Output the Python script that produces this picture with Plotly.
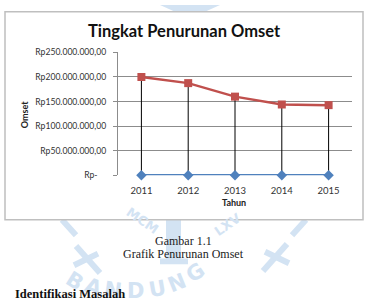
import plotly.graph_objects as go

years = ["2011", "2012", "2013", "2014", "2015"]
omset = [200_000_000, 187_500_000, 160_000_000, 144_000_000, 142_700_000]
baseline = [0, 0, 0, 0, 0]
ytick_vals = [0, 50_000_000, 100_000_000, 150_000_000, 200_000_000, 250_000_000]
ytick_text = ["Rp-\u00a0\u00a0\u00a0\u00a0", "Rp50.000.000,00", "Rp100.000.000,00",
              "Rp150.000.000,00", "Rp200.000.000,00", "Rp250.000.000,00"]

W, H = 368, 307
FONT = "Lato"
WM = "#D3E3F3"  # watermark blue

def px_x(x):
    return x / W

def px_y(y):
    return 1 - y / H

fig = go.Figure()

# baseline series with drop lines (high-low lines) up to the omset values
drops = [o - b for o, b in zip(omset, baseline)]
fig.add_trace(go.Scatter(
    x=years, y=baseline, mode="lines+markers",
    line=dict(color="#4F81BD", width=2.5),
    marker=dict(symbol="diamond", size=8, color="#4F81BD"),
    error_y=dict(type="data", symmetric=False, array=drops,
                 arrayminus=[0] * len(drops), width=0,
                 color="#000000", thickness=1),
    showlegend=False, hoverinfo="skip", cliponaxis=False,
))
fig.add_trace(go.Scatter(
    x=years, y=omset, mode="lines+markers",
    line=dict(color="#C0504D", width=2.5),
    marker=dict(symbol="square", size=8, color="#C0504D"),
    showlegend=False, cliponaxis=False,
))

fig.update_layout(
    width=W, height=H,
    margin=dict(l=0, r=0, t=0, b=0),
    paper_bgcolor="white", plot_bgcolor="white",
    font=dict(family=FONT, color="#333333"),
    xaxis=dict(
        domain=[px_x(118), px_x(352)],
        type="category", range=[-0.5, 4.5],
        showgrid=False, zeroline=False,
        showline=False, ticks="",
        tickfont=dict(size=9.5, color="#333333", family=FONT),
        ticklabelstandoff=8,
        fixedrange=True,
    ),
    yaxis=dict(
        domain=[px_y(176), px_y(49)],
        range=[0, 250_000_000],
        tickvals=ytick_vals, ticktext=ytick_text,
        showgrid=True, gridcolor="#8C8C8C", gridwidth=1,
        zeroline=False,
        showline=True, linecolor="#8C8C8C", linewidth=1,
        ticks="outside", ticklen=4, tickcolor="#8C8C8C",
        tickfont=dict(size=8.6, color="#333333", family=FONT),
        ticklabelstandoff=5,
        fixedrange=True,
    ),
)

# ---- faint watermark (drawn below everything) ----
wm_letters = [("B", 75, 285, 32), ("A", 93, 292, 20), ("N", 113, 295, 8),
              ("D", 135, 296, 0), ("U", 157, 294, -10), ("N", 177, 287, -22),
              ("G", 195, 277, -34)]
for ch, x, y, ang in wm_letters:
    fig.add_annotation(text="<b>" + ch + "</b>", xref="paper", yref="paper",
                       x=px_x(x), y=px_y(y), showarrow=False, textangle=ang,
                       font=dict(size=21, color=WM, family="DejaVu Sans"),
                       xanchor="center", yanchor="middle")
fig.add_annotation(text="<b>MCM</b>", xref="paper", yref="paper",
                   x=px_x(121), y=px_y(242), showarrow=False, textangle=35,
                   font=dict(size=13, color=WM, family="DejaVu Sans"))
fig.add_annotation(text="<b>LXV</b>", xref="paper", yref="paper",
                   x=px_x(246), y=px_y(244), showarrow=False, textangle=-35,
                   font=dict(size=13, color=WM, family="DejaVu Sans"))
# crosses
for (cx, cy, a) in [(88, 263, 1), (275, 261, -1)]:
    fig.add_shape(type="line", xref="paper", yref="paper",
                  x0=px_x(cx - 12 * a), y0=px_y(cy - 14), x1=px_x(cx + 12 * a), y1=px_y(cy + 14),
                  line=dict(color=WM, width=6), layer="below")
    fig.add_shape(type="line", xref="paper", yref="paper",
                  x0=px_x(cx - 14 * a), y0=px_y(cy + 6), x1=px_x(cx + 10 * a), y1=px_y(cy - 6),
                  line=dict(color=WM, width=6), layer="below")
# tower
fig.add_shape(type="rect", xref="paper", yref="paper",
              x0=px_x(166), x1=px_x(181), y0=px_y(266), y1=px_y(222),
              fillcolor=WM, line=dict(width=0), layer="below")
fig.add_shape(type="rect", xref="paper", yref="paper",
              x0=px_x(160), x1=px_x(188), y0=px_y(268), y1=px_y(262),
              fillcolor=WM, line=dict(width=0), layer="below")
# outer arc fragments
fig.add_shape(type="line", xref="paper", yref="paper",
              x0=px_x(62), y0=px_y(222), x1=px_x(76), y1=px_y(238),
              line=dict(color=WM, width=6), layer="below")
fig.add_shape(type="line", xref="paper", yref="paper",
              x0=px_x(292), y0=px_y(238), x1=px_x(306), y1=px_y(222),
              line=dict(color=WM, width=6), layer="below")
fig.add_shape(type="path", xref="paper", yref="paper",
              path=f"M {px_x(160)} {px_y(0)} L {px_x(175)} {px_y(7)} L {px_x(205)} {px_y(7)} L {px_x(220)} {px_y(0)} Z",
              fillcolor=WM, line=dict(width=0), layer="below")

# chart frame
fig.add_shape(type="rect", xref="paper", yref="paper",
              x0=px_x(5), x1=px_x(363), y0=px_y(222), y1=px_y(7),
              line=dict(color="#BFBFBF", width=1.5), fillcolor="white", layer="below")

# axis titles
fig.add_annotation(text="<b>Omset</b>", xref="paper", yref="paper",
                   x=px_x(24), y=px_y(114), showarrow=False, textangle=-90,
                   font=dict(size=9, color="#222222", family=FONT),
                   xanchor="center", yanchor="middle")
fig.add_annotation(text="<b>Tahun</b>", xref="paper", yref="paper",
                   x=px_x(234), y=px_y(204), showarrow=False,
                   font=dict(size=9, color="#222222", family=FONT),
                   xanchor="center", yanchor="middle")

# title
fig.add_annotation(text="<b>Tingkat Penurunan Omset</b>", xref="paper", yref="paper",
                   x=px_x(184), y=px_y(27), showarrow=False,
                   font=dict(size=16.5, color="#111111", family=FONT),
                   xanchor="center", yanchor="middle")

# caption
fig.add_annotation(text="Gambar 1.1", xref="paper", yref="paper",
                   x=px_x(183), y=px_y(244), showarrow=False,
                   font=dict(size=12, color="#222222", family="Liberation Serif"),
                   xanchor="center", yanchor="middle")
fig.add_annotation(text="Grafik Penurunan Omset", xref="paper", yref="paper",
                   x=px_x(183), y=px_y(257), showarrow=False,
                   font=dict(size=12, color="#222222", family="Liberation Serif"),
                   xanchor="center", yanchor="middle")
fig.add_annotation(text="<b>Identifikasi Masalah</b>", xref="paper", yref="paper",
                   x=px_x(13), y=px_y(299), showarrow=False,
                   font=dict(size=12.5, color="#111111", family="Liberation Serif"),
                   xanchor="left", yanchor="middle")

fig.write_html("out.html")
